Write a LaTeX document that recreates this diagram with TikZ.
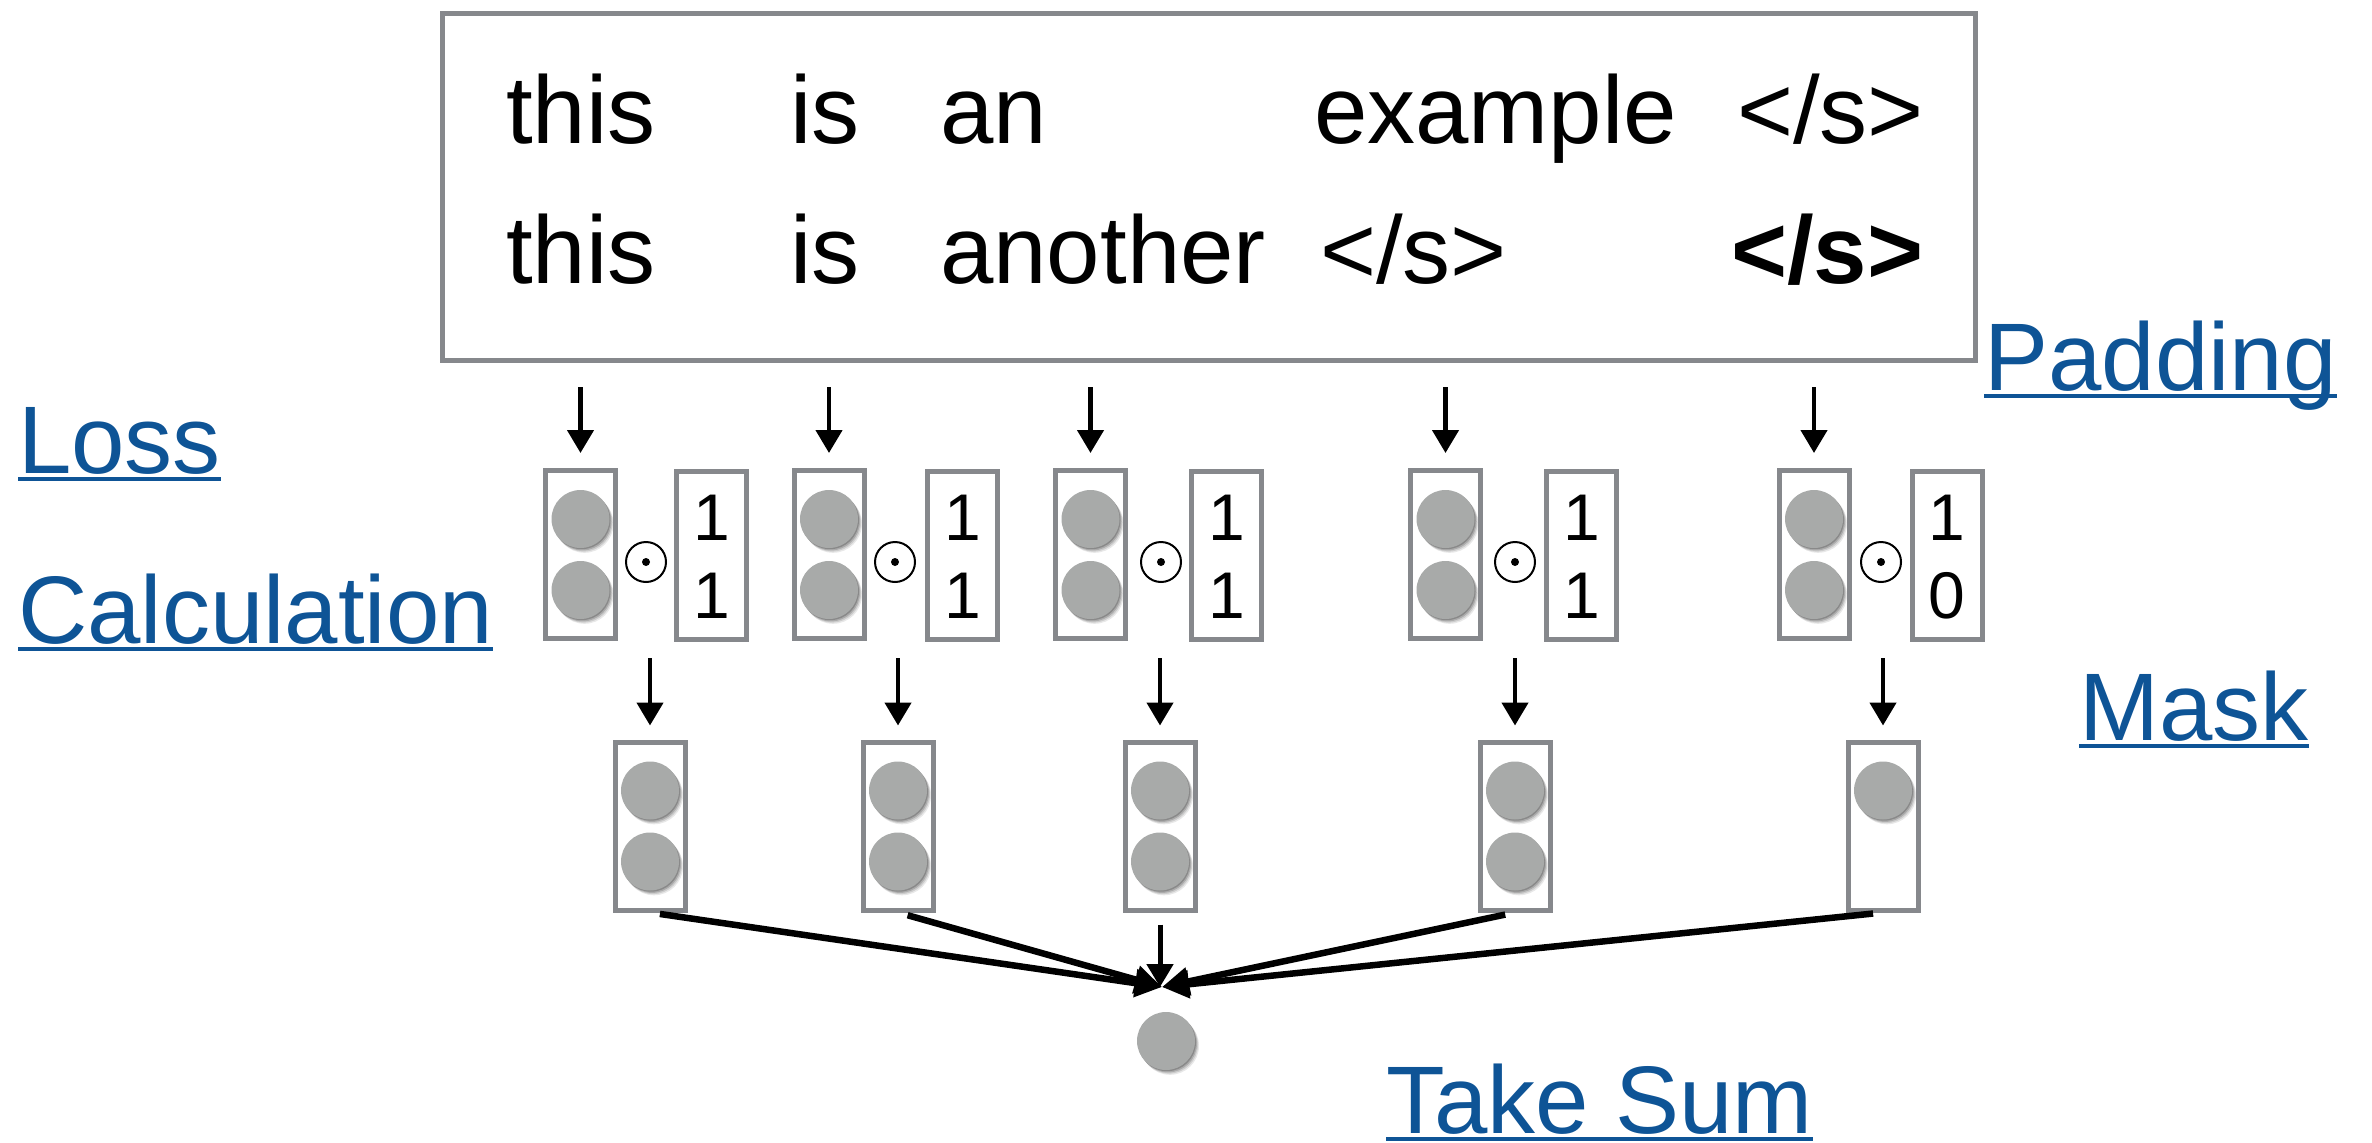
\documentclass[tikz,border=0pt]{standalone}
\usepackage{fontspec}
\setmainfont{Liberation Sans}
\usetikzlibrary{arrows.meta}
\definecolor{boxgray}{RGB}{134,136,140}
\definecolor{ballgray}{RGB}{168,170,169}
\definecolor{linkblue}{RGB}{14,84,150}
\newcommand\ballshade[1]{%
  \foreach \sa/\op in {4/0.09,3/0.12,2/0.16,1/0.2}
    \fill[black, opacity=\op, shift={(\sa,1.2*\sa)}] (#1) circle (29pt);}
\begin{document}
\begin{tikzpicture}[x=1pt,y=-1pt,
  word/.style={anchor=base west, inner sep=0pt, font=\fontsize{96}{110}\selectfont},
  link/.style={anchor=base west, inner sep=0pt, text=linkblue, font=\fontsize{96}{110}\selectfont},
  ul/.style={draw=linkblue, line width=4.5pt},
  frame/.style={draw=boxgray, line width=5pt, inner sep=0pt},
  vecbox/.style={frame, minimum width=70pt, minimum height=168pt},
  ball/.style={circle, fill=ballgray, minimum size=58pt, inner sep=0pt},
  num/.style={anchor=base, inner sep=0pt, font=\fontsize{66}{70}\selectfont},
  odotc/.style={circle, draw, line width=2pt, minimum size=40pt, inner sep=0pt},
  arr/.style={-{Triangle[length=23pt,width=26pt]}, line width=4.5pt},
  arrthick/.style={-{Triangle[length=27pt,width=27pt]}, line width=6.5pt},
]
\useasboundingbox (0,0) rectangle (2372,1143);

% sentence box
\node[frame, minimum width=1533pt, minimum height=347pt] (big) at (1209,187) {};
\node[word] (a1) at (506,143) {this};
\node[word] (a2) at (790,143) {is};
\node[word] (a3) at (940,143) {an};
\node[word] (a4) at (1314,143) {example};
\node[word] (a5) at (1737,143) {</s>};
\node[word] (b1) at (506,283) {this};
\node[word] (b2) at (790,283) {is};
\node[word] (b3) at (940,283) {another};
\node[word] (b4) at (1320,283) {</s>};
\node[word] (b5) at (1731,283) {\bfseries </s>};

% labels
\node[link] (lossA) at (18,473) {Loss};
\node[link] (lossB) at (18,643) {Calculation};
\node[link] (pad) at (1984,390) {Padding};
\node[link] (mask) at (2079,740) {Mask};
\node[link] (sumlab) at (1386,1133) {\smash{Take Sum}};
\foreach \n in {lossA,lossB,pad,mask,sumlab}
  \draw[ul] ([yshift=-6pt]\n.base west) -- ([yshift=-6pt]\n.base east);

% columns
\foreach \i/\bx/\ox/\mx/\rx/\lo in {1/580.5/646/711.5/650/1, 2/829/895/962.5/898/1, 3/1090.5/1161/1226.5/1160/1, 4/1445.5/1515/1581.5/1515/1, 5/1814/1881/1947/1883/0} {
  \ballshade{\bx,519}
  \node[ball] (ca\i) at (\bx,519) {};
  \ballshade{\bx,590}
  \node[ball] (cc\i) at (\bx,590) {};
  \node[vecbox] (cb\i) at (\bx,554.5) {};
  \node[odotc] (od\i) at (\ox,562) {};
  \fill (od\i.center) circle (4pt);
  \node[vecbox] (mb\i) at (\mx,555.5) {};
  \node[num] (ma\i) at (\mx,540) {1};
  \node[num] (mc\i) at (\mx,618) {\lo};
  \ballshade{\rx,790.5}
  \node[ball] (ra\i) at (\rx,790.5) {};
  \node[vecbox] (rb\i) at (\rx,826) {};
  \draw[arr, shorten <=24pt, shorten >=15pt] (cb\i.north |- big.south) -- (cb\i.north);
  \draw[arr, shorten <=17pt, shorten >=14pt] (rb\i.north |- cb\i.south) -- (rb\i.north);
}
\foreach \i/\rx in {1/650, 2/898, 3/1160, 4/1515} {
  \ballshade{\rx,861.5}
  \node[ball] (rc\i) at (\rx,861.5) {};
}

% sum
\ballshade{1166,1041}
\node[ball] (sum) at (1166,1041) {};
\coordinate (hub) at (1162,987);
\foreach \i in {1,2,4,5}
  \draw[arrthick, shorten <=10pt] (rb\i.south) -- (hub);
\draw[arr, line width=5pt, shorten <=12pt] (rb3.south) -- (rb3.south |- hub);
\end{tikzpicture}
\end{document}
